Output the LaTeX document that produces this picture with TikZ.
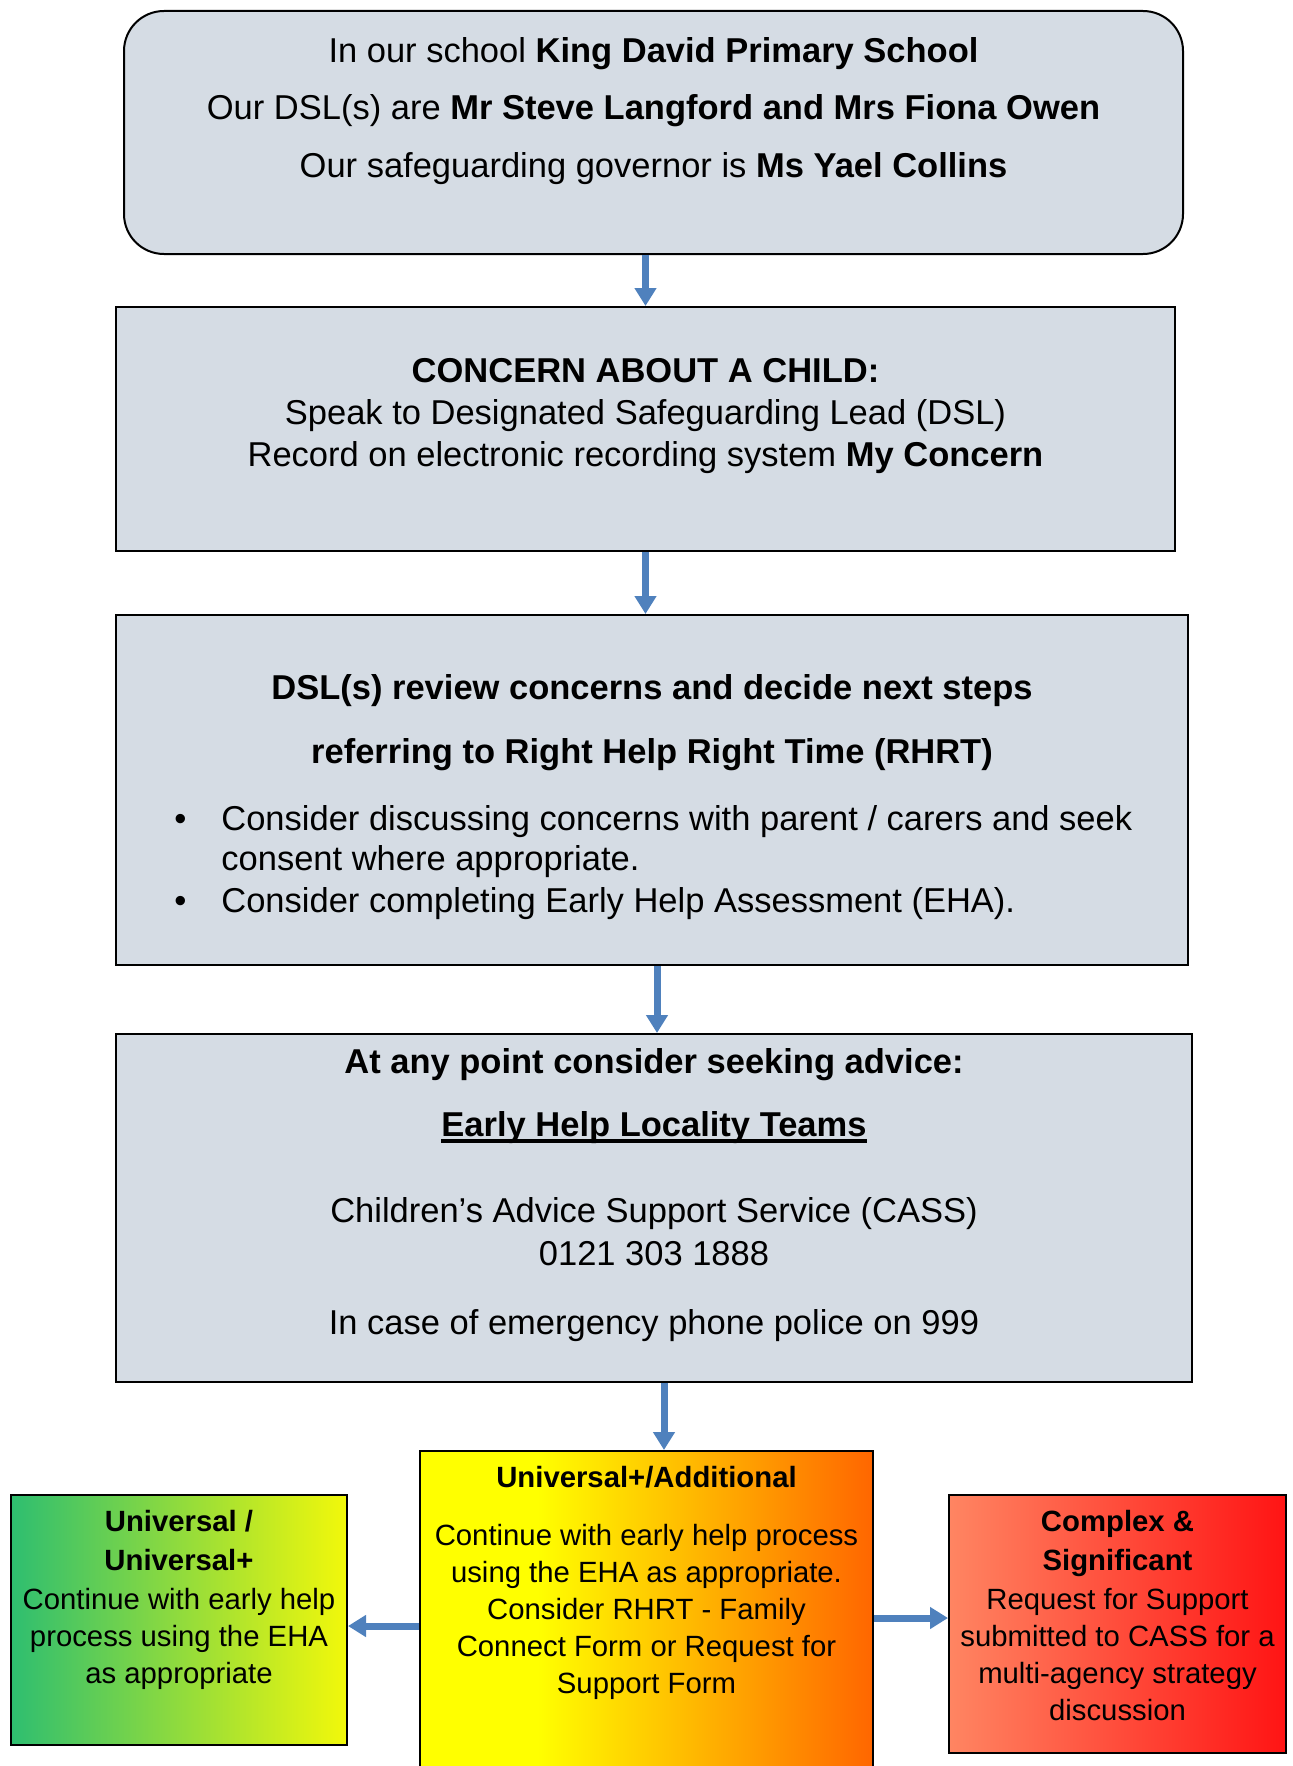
\documentclass[tikz,border=0pt]{standalone}
\usepackage{fontspec}
\setmainfont{Liberation Sans}
\usetikzlibrary{arrows.meta,positioning,calc}
\definecolor{boxgrey}{RGB}{213,220,228}
\definecolor{arrowblue}{RGB}{79,129,189}
\definecolor{leftgreen}{RGB}{46,190,112}
\definecolor{leftyellow}{RGB}{242,248,10}
\definecolor{midyellow}{RGB}{255,255,0}
\definecolor{midorange}{RGB}{255,102,0}
\definecolor{rightsalmon}{RGB}{255,133,98}
\definecolor{rightred}{RGB}{255,20,20}
\pgfdeclarehorizontalshading{yellow-orange}{100bp}{color(0bp)=(midyellow); color(25bp)=(midyellow); color(38bp)=(midyellow); color(75bp)=(midorange); color(100bp)=(midorange)}
\newcommand{\thickunderline}[1]{\setbox0\hbox{#1}\rlap{\rule[-3.5pt]{\wd0}{2pt}}\box0}
\tikzset{
    grey-box/.style = {draw=black, fill=boxgrey, line width=1pt, rectangle, inner sep=0pt},
    level-box/.style = {draw=black, line width=1pt, rectangle, inner sep=0pt},
    big-text/.style = {font=\fontsize{17.25pt}{21pt}\selectfont, align=center, inner sep=0pt},
    small-text/.style = {font=\fontsize{14.65pt}{18.5pt}\selectfont, align=center, inner sep=0pt},
    flow-arrow/.style = {draw=arrowblue, line width=3.5pt, -{Triangle[width=10.5pt,length=9pt]}},
}

\begin{document}
\begin{tikzpicture}[x=0.5pt, y=-0.5pt]
\useasboundingbox (0,0) rectangle (1293,1766);
% grey boxes
\node [grey-box, rounded corners=20pt, minimum width=529.5pt, minimum height=121.5pt] (school) at (653.5,132.5) {};
\node [grey-box, minimum width=529.5pt, minimum height=122pt] (concern) at (645.5,429) {};
\node [grey-box, minimum width=536pt, minimum height=175pt] (review) at (652,790) {};
\node [grey-box, minimum width=538pt, minimum height=174pt] (advice) at (654,1208) {};
% coloured boxes
\node [level-box, shading=yellow-orange, minimum width=226.5pt, minimum height=164.5pt] (additional) at (646.5,1615.5) {};
\node [level-box, left color=leftgreen, right color=leftyellow, minimum width=168pt, minimum height=125pt] (universal) at (179,1620) {};
\node [level-box, left color=rightsalmon, right color=rightred, minimum width=168.5pt, minimum height=129pt] (complex) at (1117.5,1624) {};

\node [big-text, below=13.5pt of school.north] (school-text) {In our school \textbf{King David Primary School}\\[7.75pt]
    Our DSL(s) are \textbf{Mr Steve Langford and Mrs Fiona Owen}\\[7.75pt]
    Our safeguarding governor is \textbf{Ms Yael Collins}};
\node [big-text, below=26pt of concern.north] (concern-text) {\textbf{CONCERN ABOUT A CHILD:}\\
    Speak to Designated Safeguarding Lead (DSL)\\
    Record on electronic recording system \textbf{My Concern}};
\node [big-text, below=30pt of review.north] (review-text) {\textbf{DSL(s) review concerns and decide next steps}\\[11pt]
    \textbf{referring to Right Help Right Time (RHRT)}};
\node [big-text, align=left, anchor=north west] (review-list) at ([xshift=29.5pt, yshift=-95.5pt]review.north west)
    {\makebox[23.5pt][l]{\textbullet}Consider discussing concerns with parent / carers and seek\\[-1pt]
    \hspace*{23.5pt}consent where appropriate.\\
    \makebox[23.5pt][l]{\textbullet}Consider completing Early Help Assessment (EHA).};
\node [big-text, below=7.5pt of advice.north] (advice-text) {\textbf{At any point consider seeking advice:}\\[10.5pt]
    \thickunderline{\textbf{Early Help Locality Teams}}\\[22pt]
    Children’s Advice Support Service (CASS)\\[0.5pt]
    0121 303 1888\\[13.5pt]
    In case of emergency phone police on 999};

\node [small-text, below=8pt of additional.north] (additional-text) {\textbf{Universal+/Additional}\\[10.5pt]
    Continue with early help process\\
    using the EHA as appropriate.\\
    Consider RHRT - Family\\
    Connect Form or Request for\\
    Support Form};
\node [small-text, below=8pt of universal.north] (universal-text) {\textbf{Universal /}\\[1pt]
    \textbf{Universal+}\\[1pt]
    Continue with early help\\
    process using the EHA\\
    as appropriate};
\node [small-text, below=8pt of complex.north] (complex-text) {\textbf{Complex \&}\\[1pt]
    \textbf{Significant}\\[1pt]
    Request for Support\\
    submitted to CASS for a\\
    multi-agency strategy\\
    discussion};

% arrows
\draw [flow-arrow] (school.south -| concern.north) -- (concern.north);
\draw [flow-arrow] (concern.south) -- (concern.south |- review.north);
\draw [flow-arrow] ([xshift=2.5pt]review.south) -- ([xshift=2.5pt]review.south |- advice.north);
\draw [flow-arrow] ([xshift=5pt]advice.south) -- ([xshift=5pt]advice.south |- additional.north);
\draw [flow-arrow] ([yshift=-3pt]additional.west |- universal.east) -- ([yshift=-3pt]universal.east);
\draw [flow-arrow] ([yshift=3pt]additional.east |- complex.west) -- ([yshift=3pt]complex.west);
\end{tikzpicture}
\end{document}
